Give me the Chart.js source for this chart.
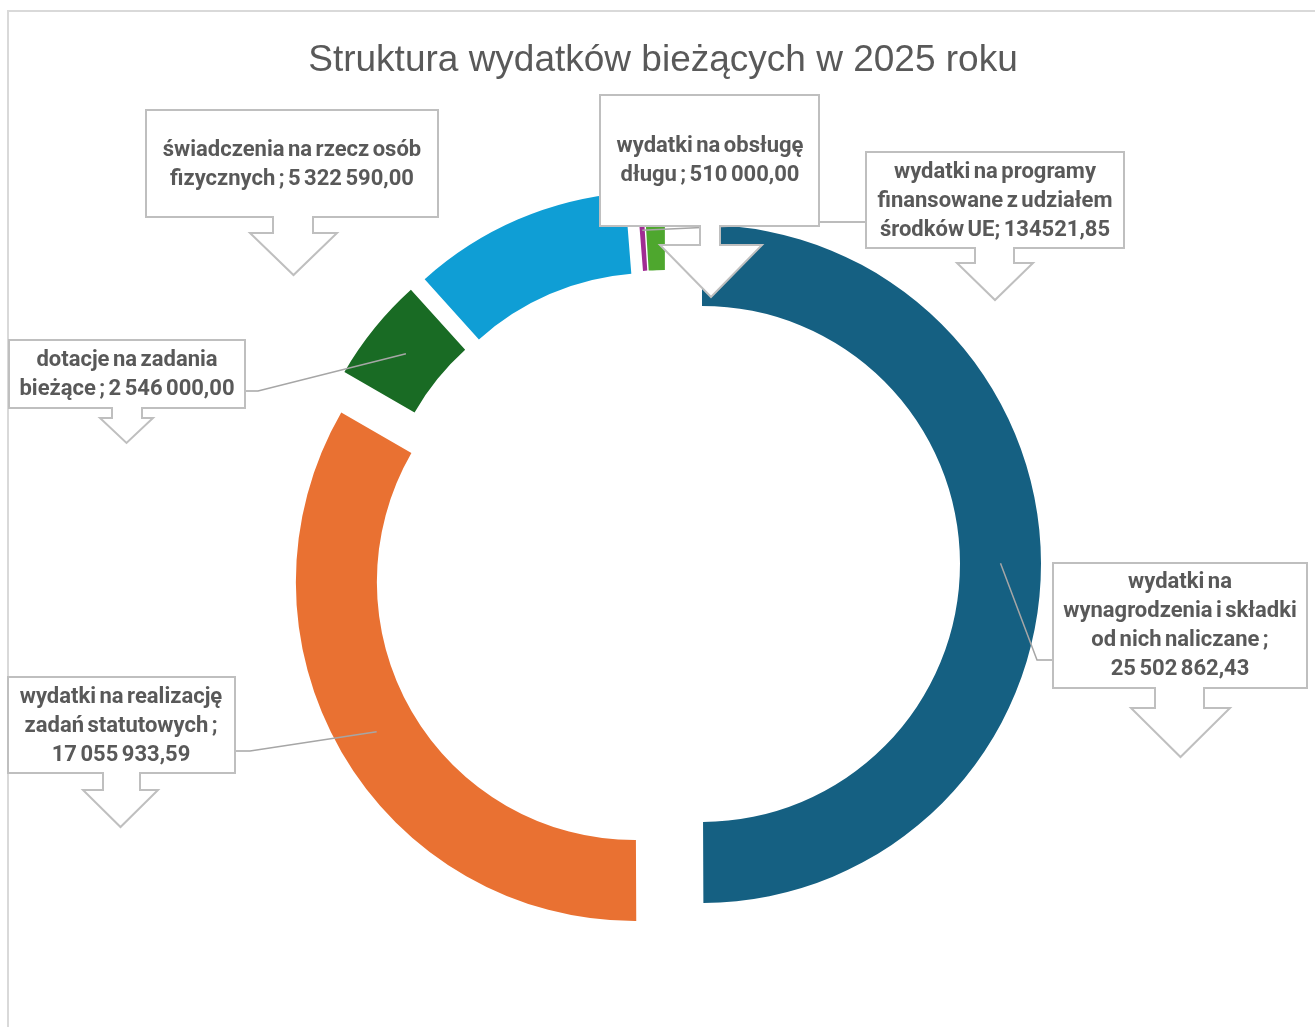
<!DOCTYPE html>
<html lang="pl">
<head>
<meta charset="utf-8">
<title>Struktura wydatków bieżących w 2025 roku</title>
<script src="https://cdn.jsdelivr.net/npm/chart.js@4.4.1/dist/chart.umd.min.js"></script>
<style>
  html, body { margin: 0; padding: 0; background: #fff; overflow: hidden; }
  canvas { display: block; }
</style>
</head>
<body>
<canvas id="chart" width="1315" height="1027"></canvas>
<script>
// dane wykresu
const chartTitle = 'Struktura wydatków bieżących w 2025 roku';
const categories = [
  'wydatki na wynagrodzenia i składki od nich naliczane',
  'wydatki na realizację zadań statutowych',
  'dotacje na zadania bieżące',
  'świadczenia na rzecz osób fizycznych',
  'wydatki na programy finansowane z udziałem środków UE',
  'wydatki na obsługę długu'
];
const values = [25502862.43, 17055933.59, 2546000.00, 5322590.00, 134521.85, 510000.00];
const colors = ['#156082', '#E97132', '#196B24', '#0F9ED5', '#A02B93', '#4EA72E'];
// tekst etykiet ({v} = wartość)
const labelLines = [
  ['wydatki na', 'wynagrodzenia i składki', 'od nich naliczane ;', '{v}'],
  ['wydatki na realizację', 'zadań statutowych ;', '{v}'],
  ['dotacje na zadania', 'bieżące ; {v}'],
  ['świadczenia na rzecz osób', 'fizycznych ; {v}'],
  ['wydatki na programy', 'finansowane z udziałem', 'środków UE; {v}'],
  ['wydatki na obsługę', 'długu ; {v}']
];
const groupDigits = [true, true, true, true, false, true];

// układ objaśnień (pozycje w pikselach)
const callouts = [
  { box: [1053, 563, 1307, 688], shaft: [1155, 1204], headY: 708, head: [1131, 1230], tipY: 757, cx: 1180, y0: 582, leader: [[1053, 660], [1037, 660]] },
  { box: [8, 677, 235, 773], shaft: [103, 140], headY: 790, head: [83, 158], tipY: 827, cx: 121, y0: 697, leader: [[235, 751], [250, 751]] },
  { box: [9, 340, 245, 408], shaft: [112, 142], headY: 418, head: [100, 153], tipY: 443, cx: 127, y0: 360, leader: [[245, 391], [258, 391]] },
  { box: [146, 110, 438, 217], shaft: [273, 313], headY: 233, head: [250, 337], tipY: 275, cx: 292, y0: 150, leader: null },
  { box: [866, 152, 1124, 248], shaft: [975, 1014], headY: 263, head: [957, 1033], tipY: 300, cx: 995, y0: 172, leader: [[866, 222], [820, 222]] },
  { box: [600, 95, 819, 226], shaft: [700, 720], headY: 245, head: [660, 762], tipY: 297, cx: 710, y0: 146, leader: null }
];
const drawOrder = [4, 0, 1, 2, 3, 5];
const explode = 36;
const lineHeight = 29;
const textColor = '#595959';
const lineColor = '#A6A6A6';
const boxColor = '#BFBFBF';

function formatValue(v, grouped) {
  const parts = v.toFixed(2).split('.');
  let int = parts[0];
  if (grouped) int = int.replace(/\B(?=(\d{3})+(?!\d))/g, ' ');
  return int + ',' + parts[1];
}

function ringPoint(arc) {
  const mid = (arc.startAngle + arc.endAngle) / 2;
  const r = explode + (arc.innerRadius + arc.outerRadius) / 2;
  return [arc.x + Math.cos(mid) * r, arc.y + Math.sin(mid) * r];
}

// rozsunięte wycinki
const explodePlugin = {
  id: 'explode',
  beforeDatasetDraw(chart, args) {
    const ctx = chart.ctx;
    args.meta.data.forEach(arc => {
      const mid = (arc.startAngle + arc.endAngle) / 2;
      ctx.save();
      ctx.translate(Math.cos(mid) * explode, Math.sin(mid) * explode);
      arc.draw(ctx, chart.chartArea);
      ctx.restore();
    });
    return false;
  }
};

// ramka, tytuł, objaśnienia
const calloutPlugin = {
  id: 'callouts',
  afterDraw(chart) {
    const ctx = chart.ctx;
    const arcs = chart.getDatasetMeta(0).data;

    ctx.save();
    ctx.strokeStyle = '#D9D9D9';
    ctx.lineWidth = 2;
    ctx.beginPath();
    ctx.moveTo(8, 1027);
    ctx.lineTo(8, 11);
    ctx.lineTo(1315, 11);
    ctx.stroke();

    ctx.fillStyle = textColor;
    ctx.font = '37px "Liberation Sans", Arial, sans-serif';
    ctx.textAlign = 'center';
    ctx.textBaseline = 'middle';
    ctx.fillText(chartTitle, 663, 61);

    // linie odniesienia
    ctx.strokeStyle = lineColor;
    ctx.lineWidth = 1.5;
    callouts.forEach((c, i) => {
      if (!c.leader) return;
      const p = ringPoint(arcs[i]);
      ctx.beginPath();
      ctx.moveTo(c.leader[0][0], c.leader[0][1]);
      c.leader.slice(1).forEach(q => ctx.lineTo(q[0], q[1]));
      ctx.lineTo(p[0], p[1]);
      ctx.stroke();
    });

    drawOrder.forEach(i => {
      const c = callouts[i];
      const [x1, y1, x2, y2] = c.box;
      const tipX = (c.head[0] + c.head[1]) / 2;
      ctx.beginPath();
      ctx.moveTo(x1, y1);
      ctx.lineTo(x2, y1);
      ctx.lineTo(x2, y2);
      ctx.lineTo(c.shaft[1], y2);
      ctx.lineTo(c.shaft[1], c.headY);
      ctx.lineTo(c.head[1], c.headY);
      ctx.lineTo(tipX, c.tipY);
      ctx.lineTo(c.head[0], c.headY);
      ctx.lineTo(c.shaft[0], c.headY);
      ctx.lineTo(c.shaft[0], y2);
      ctx.lineTo(x1, y2);
      ctx.closePath();
      ctx.fillStyle = '#FFFFFF';
      ctx.fill();
      ctx.strokeStyle = boxColor;
      ctx.lineWidth = 2;
      ctx.stroke();

      const v = formatValue(values[i], groupDigits[i]);
      ctx.fillStyle = textColor;
      ctx.font = 'bold 22px Roboto, "Liberation Sans", sans-serif';
      ctx.wordSpacing = '-2px';
      labelLines[i].forEach((t, k) => {
        ctx.fillText(t.replace('{v}', v), c.cx, c.y0 + k * lineHeight);
      });
      ctx.wordSpacing = '0px';
    });
    ctx.restore();
  }
};

new Chart(document.getElementById('chart'), {
  type: 'doughnut',
  data: {
    labels: categories,
    datasets: [{
      data: values,
      backgroundColor: colors,
      borderWidth: 0,
      radius: 339,
      cutout: (258 / 339 * 100) + '%'
    }]
  },
  options: {
    responsive: false,
    animation: false,
    devicePixelRatio: 1,
    layout: { padding: { left: 266, right: 249, top: 164, bottom: 63 } },
    plugins: {
      legend: { display: false },
      title: { display: false },
      tooltip: { enabled: false }
    }
  },
  plugins: [explodePlugin, calloutPlugin]
});
</script>
</body>
</html>
